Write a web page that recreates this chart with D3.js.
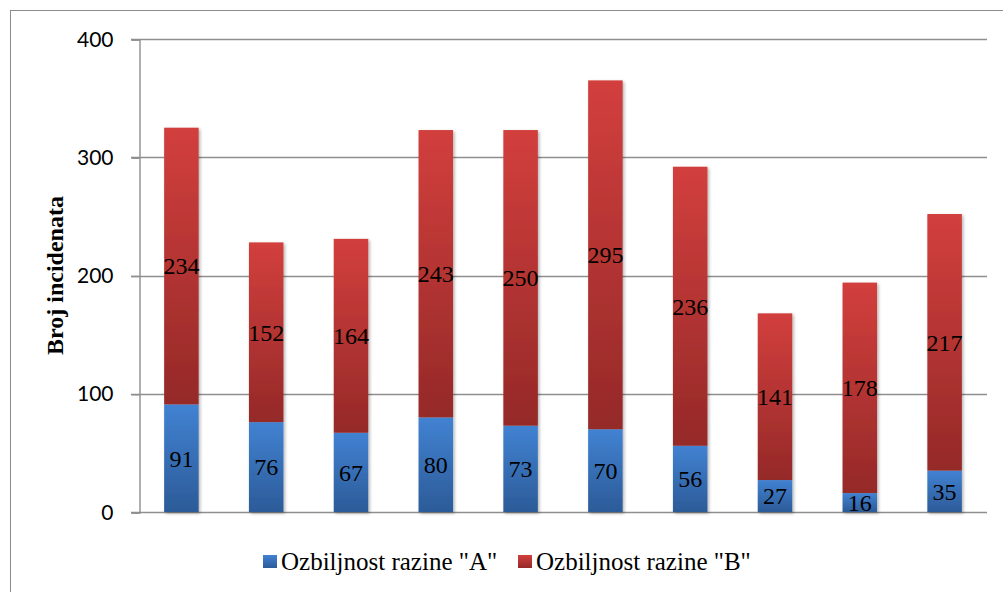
<!DOCTYPE html>
<html>
<head>
<meta charset="utf-8">
<script src="https://cdn.jsdelivr.net/npm/d3@7"></script>
<style>
  html, body { margin: 0; padding: 0; background: #fff; }
  svg { display: block; }
</style>
</head>
<body>
<svg id="chart" width="1003" height="592"></svg>
<script>
// Incident counts per group, split by severity level
const categories = ["1", "2", "3", "4", "5", "6", "7", "8", "9", "10"];
const levelA = [91, 76, 67, 80, 73, 70, 56, 27, 16, 35];
const levelB = [234, 152, 164, 243, 250, 295, 236, 141, 178, 217];
const seriesNames = ['Ozbiljnost razine "A"', 'Ozbiljnost razine "B"'];
const yTicks = [0, 100, 200, 300, 400];

const svg = d3.select("#chart");
const W = 1003, H = 592;
const plot = { left: 139, right: 987, top: 39, bottom: 512 };
const serif = "'Liberation Serif', 'Times New Roman', serif";

// outer chart frame
svg.append("rect")
  .attr("x", 10.5).attr("y", 10.5)
  .attr("width", W).attr("height", H)
  .attr("fill", "none").attr("stroke", "#8c8c8c").attr("stroke-width", 1);

const defs = svg.append("defs");
function vGrad(id, top, bottom) {
  const g = defs.append("linearGradient").attr("id", id)
    .attr("x1", 0).attr("y1", 0).attr("x2", 0).attr("y2", 1);
  g.append("stop").attr("offset", "0%").attr("stop-color", top);
  g.append("stop").attr("offset", "100%").attr("stop-color", bottom);
}
vGrad("gradA", "#4182d2", "#2c5b98");
vGrad("gradB", "#d23f3d", "#952928");
const shadow = defs.append("filter").attr("id", "shadow")
  .attr("x", "-30%").attr("y", "-10%").attr("width", "160%").attr("height", "120%");
shadow.append("feDropShadow").attr("dx", 1.5).attr("dy", 1.5)
  .attr("stdDeviation", 1.6).attr("flood-color", "#000").attr("flood-opacity", 0.3);

const x = d3.scaleBand().domain(categories)
  .range([plot.left, plot.right])
  .paddingInner(0.593).paddingOuter(0.2965);
const y = d3.scaleLinear().domain([0, 400]).range([plot.bottom, plot.top]);

// horizontal gridlines
svg.append("g").selectAll("line").data(yTicks).join("line")
  .attr("x1", plot.left - 8).attr("x2", plot.right)
  .attr("y1", d => Math.round(y(d)) + 0.5).attr("y2", d => Math.round(y(d)) + 0.5)
  .attr("stroke", "#8e8e8e").attr("stroke-width", 1.4);

// y axis
const yAxis = d3.axisLeft(y).tickValues(yTicks).tickSize(8).tickPadding(18);
const ay = svg.append("g").attr("transform", `translate(${plot.left + 0.5},0.5)`).call(yAxis);
ay.select(".domain").attr("stroke", "#8e8e8e").attr("stroke-width", 1.4);
ay.selectAll(".tick line").attr("stroke", "#8e8e8e").attr("stroke-width", 1.4);
ay.selectAll(".tick text")
  .attr("font-family", "Lato, 'Open Sans', sans-serif")
  .attr("font-size", 21).attr("fill", "#000");

svg.append("text")
  .attr("transform", `translate(63,${(plot.top + plot.bottom) / 2}) rotate(-90)`)
  .attr("text-anchor", "middle")
  .attr("font-family", serif)
  .attr("font-weight", "bold").attr("font-size", 24).attr("fill", "#000")
  .text("Broj incidenata");

// stacked bars
const rows = categories.map((c, i) => ({ cat: c, A: levelA[i], B: levelB[i] }));
const stack = d3.stack().keys(["A", "B"])(rows);
const fills = ["url(#gradA)", "url(#gradB)"];

const bars = svg.append("g").attr("filter", "url(#shadow)");
stack.forEach((layer, li) => {
  bars.append("g").selectAll("rect").data(layer).join("rect")
    .attr("x", d => x(d.data.cat))
    .attr("width", x.bandwidth())
    .attr("y", d => y(d[1]))
    .attr("height", d => y(d[0]) - y(d[1]))
    .attr("fill", fills[li]);
});

// value labels centred in each segment
const labels = svg.append("g")
  .attr("font-family", serif)
  .attr("font-size", 24).attr("fill", "#000").attr("text-anchor", "middle");
stack.forEach(layer => {
  labels.append("g").selectAll("text").data(layer).join("text")
    .attr("x", d => x(d.data.cat) + x.bandwidth() / 2)
    .attr("y", d => y((d[0] + d[1]) / 2))
    .attr("dy", "0.35em")
    .text(d => d[1] - d[0]);
});

// legend
const legend = svg.append("g")
  .attr("font-family", serif)
  .attr("font-size", 25).attr("fill", "#000");
const legendX = [263, 518];
seriesNames.forEach((name, i) => {
  const g = legend.append("g").attr("transform", `translate(${legendX[i]},555)`);
  g.append("rect").attr("width", 14).attr("height", 13).attr("fill", fills[i]);
  g.append("text").attr("x", 18).attr("y", 15).text(name);
});
</script>
</body>
</html>
